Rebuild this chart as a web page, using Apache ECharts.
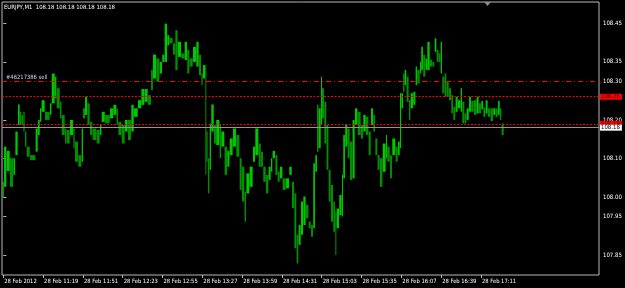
<!DOCTYPE html>
<html>
<head>
<meta charset="utf-8">
<title>EURJPY,M1</title>
<style>
  html, body { margin: 0; padding: 0; background: #000; overflow: hidden; }
</style>
</head>
<body>
<div id="chart" style="width:625px;height:288px;"></div>
<script src="https://cdn.jsdelivr.net/npm/echarts@6/dist/echarts.min.js"></script>
<script>
// blocks of M1 bars: start minute (0 = 10:47), high, low
var blockStart = [-0.5,0.6,2.7,5.4,8.1,9.7,11.8,13.4,14.8,16.1,17.4,18.8,21.5,26.0,27.9,29.5,30.8,33.5,37.5,38.9,41.6,42.9,45.6,47.0,49.6,51.0,53.6,56.3,57.6,60.3,63.0,64.3,65.7,67.6,69.7,71.8,75.1,77.7,79.1,81.8,85.8,88.5,91.1,92.5,95.2,97.8,
  100.2,102.9,105.1,108.3,111.0,113.6,116.3,119.0,120.3,123.0,125.7,127.8,129.7,131.9,133.7,136.4,138.3,140.4,143.1,145.8,147.9,149.8,152.5,155.2,157.3,159.2,160.5,162.4,163.2,164.5,165.9,167.2,169.4,171.2,173.9,175.3,177.9,180.1,182.0,184.6,187.3,190.0,191.9,194.0,195.4,198.0,200.7,202.6,
  205.3,207.2,209.0,211.2,213.3,215.2,216.5,218.7,220.6,222.4,224.6,227.3,229.9,232.1,234.0,235.8,237.4,239.3,241.2,243.3,245.5,247.4,249.2,250.8,252.4,253.5,255.4,256.2,258.1,259.9,261.6,263.4,265.3,266.9,268.0,270.1,272.3,273.3,274.9,276.8,278.7,280.8,282.7,284.9,287.5,289.4,291.6,293.7,295.6,297.5,299.1,300.9,302.8,305.0,
  307.6,308.7,310.9,312.7,315.4,317.3,318.9,320.0,321.6,322.6,324.2,326.1,327.5,329.6,331.5,332.8,335.0,336.0,337.6,339.5,340.9,343.0,344.9,346.8,348.4,350.2,351.6,352.9,354.8,356.4,358.3,360.2,361.8,363.6,365.5,367.7,369.0,370.9,372.5,374.4,376.2,378.4,380.5,382.4,384.3,385.9,387.8,389.6,391.8,393.9,395.8,397.7,399.3,400.6];
var lastEnd = 402.5;

var blockHigh = [108.040,108.131,108.120,108.101,108.101,108.170,108.240,108.221,108.213,108.221,
  108.170,108.131,108.109,108.178,108.200,108.230,108.251,108.221,108.243,108.320,
  108.312,108.282,108.247,108.213,108.178,108.174,108.200,108.178,108.144,108.109,
  108.178,108.230,108.260,108.243,108.195,108.178,108.174,108.187,108.221,108.213,
  108.230,108.239,108.230,108.195,108.187,108.200,
  108.200,108.239,108.230,108.251,108.280,108.280,108.264,108.329,108.369,108.359,
  108.350,108.369,108.449,108.419,108.412,108.398,108.432,108.402,108.372,108.402,
  108.381,108.359,108.389,108.402,108.368,108.320,108.342,108.342,108.170,108.101,
  108.191,108.240,108.187,108.200,108.187,108.170,108.131,108.120,108.152,108.178,
  108.161,108.101,108.079,108.015,108.062,108.079,108.131,108.178,
  108.139,108.118,108.079,108.058,108.079,108.101,108.120,108.109,108.066,108.079,
  108.049,108.049,108.079,108.040,108.010,107.903,107.928,107.989,108.002,107.980,
  107.937,107.928,108.088,108.109,108.239,108.230,108.312,108.282,108.247,108.187,
  108.071,108.032,107.989,107.963,107.971,108.006,108.058,108.161,108.187,108.178,
  108.144,108.200,108.230,108.221,108.187,108.213,108.208,108.170,108.230,108.213,
  108.152,108.109,108.101,108.139,
  108.161,108.131,108.109,108.152,108.131,108.144,108.269,108.269,108.320,108.329,
  108.312,108.251,108.269,108.273,108.338,108.329,108.350,108.389,108.368,108.359,
  108.402,108.355,108.350,108.411,108.381,108.372,108.402,108.312,108.320,108.299,
  108.282,108.264,108.234,108.260,108.251,108.282,108.247,108.217,108.230,108.260,
  108.249,108.251,108.260,108.243,108.249,108.232,108.251,108.230,108.230,108.230,
  108.230,108.249,108.230,108.191];

var blockLow = [107.999,108.027,108.068,108.027,108.058,108.109,108.187,108.187,108.187,108.170,
  108.131,108.105,108.096,108.118,108.161,108.195,108.221,108.200,108.213,108.243,
  108.256,108.230,108.204,108.161,108.139,108.139,108.161,108.127,108.092,108.079,
  108.092,108.204,108.213,108.187,108.161,108.148,108.139,108.161,108.195,108.191,
  108.204,108.213,108.187,108.161,108.139,108.170,
  108.148,108.170,108.208,108.230,108.239,108.247,108.239,108.277,108.307,108.299,
  108.320,108.350,108.350,108.393,108.398,108.369,108.329,108.363,108.359,108.355,
  108.320,108.338,108.350,108.338,108.316,108.290,108.307,108.058,108.092,108.010,
  108.071,108.170,108.139,108.135,108.101,108.131,108.058,108.079,108.109,108.131,
  108.105,108.019,107.989,107.937,108.010,108.027,108.092,108.109,
  108.079,108.079,108.040,108.010,108.045,108.066,108.101,108.058,108.040,108.049,
  108.019,108.023,108.058,107.972,107.868,107.829,107.877,107.903,107.928,107.946,
  107.920,107.898,107.920,108.066,108.118,108.127,108.187,108.204,108.139,108.071,
  107.989,107.937,107.911,107.851,107.920,107.954,107.950,108.049,108.131,108.101,
  108.045,108.049,108.187,108.161,108.152,108.170,108.161,108.109,108.187,108.170,
  108.109,108.071,108.027,108.066,
  108.101,108.092,108.049,108.109,108.092,108.109,108.127,108.230,108.273,108.290,
  108.247,108.200,108.230,108.239,108.290,108.294,108.320,108.329,108.312,108.329,
  108.329,108.338,108.338,108.376,108.350,108.350,108.320,108.269,108.260,108.260,
  108.251,108.217,108.200,108.221,108.230,108.221,108.191,108.191,108.200,108.221,
  108.221,108.213,108.217,108.217,108.228,108.208,108.217,108.208,108.197,108.213,
  108.208,108.213,108.200,108.161];

var timeTicks = [0,32,64,96,128,160,192,224,256,288,320,352,384];
var timeLabels = ['28 Feb 2012','28 Feb 11:19','28 Feb 11:51','28 Feb 12:23','28 Feb 12:55','28 Feb 13:27',
  '28 Feb 13:59','28 Feb 14:31','28 Feb 15:03','28 Feb 15:35','28 Feb 16:07','28 Feb 16:39','28 Feb 17:11'];
var priceTicks = [107.85,107.95,108.00,108.10,108.20,108.30,108.35,108.45];

var orderPrice = 108.30;
var slPrice = 108.26;
var tpPrice = 108.19;
var bidPrice = 108.18;

var font = "'DejaVu Sans Condensed', 'Liberation Sans', sans-serif";

var data = blockStart.map(function (s, i) {
  var e = i + 1 < blockStart.length ? blockStart[i + 1] : lastEnd;
  var up = i === 0 || (blockHigh[i] + blockLow[i]) >= (blockHigh[i - 1] + blockLow[i - 1]);
  return [s, e, blockHigh[i], blockLow[i], up ? 1 : 0];
});

var chart = echarts.init(document.getElementById('chart'));

chart.setOption({
  backgroundColor: '#000',
  animation: false,
  title: {
    text: 'EURJPY,M1  108.18 108.18 108.18 108.18',
    left: 4, top: 4, padding: 0,
    textStyle: { color: '#fff', fontSize: 5.9, fontWeight: 'normal', fontFamily: font }
  },
  grid: { left: 2, right: 26, top: 2, bottom: 13, show: true, borderColor: '#b8b8b8', borderWidth: 1, backgroundColor: '#000' },
  xAxis: {
    type: 'value', min: -1.05, max: 478.9,
    splitLine: { show: false },
    axisLine: { show: false },
    axisTick: { show: true, customValues: timeTicks, length: 3, lineStyle: { color: '#b8b8b8' } },
    axisLabel: {
      customValues: timeTicks, color: '#fff', fontSize: 5.8, fontFamily: font, align: 'left', margin: 3,
      hideOverlap: false, padding: [0, 0, 0, 1],
      formatter: function (v) { return timeLabels[Math.round(v / 32)]; }
    }
  },
  yAxis: {
    type: 'value', position: 'right', min: 107.799, max: 108.505,
    splitLine: { show: false },
    axisLine: { show: false },
    axisTick: { show: true, customValues: priceTicks, length: 3, lineStyle: { color: '#b8b8b8' } },
    axisLabel: {
      customValues: priceTicks, color: '#fff', fontSize: 6, fontFamily: font, margin: 4, hideOverlap: false,
      formatter: function (v) { return v.toFixed(2); }
    }
  },
  series: [{
    type: 'custom',
    data: data,
    clip: true,
    renderItem: function (params, api) {
      var a = api.coord([api.value(0), api.value(2)]);
      var b = api.coord([api.value(1), api.value(3)]);
      return {
        type: 'rect',
        shape: { x: a[0], y: a[1], width: Math.max(1, b[0] - a[0] - 0.3), height: Math.max(1, b[1] - a[1]) },
        style: { fill: api.value(4) ? '#00c800' : '#009000' }
      };
    },
    markLine: {
      silent: true, symbol: 'none', animation: false,
      data: [
        { yAxis: orderPrice, lineStyle: { color: '#ff0000', type: [5, 3, 1, 3], width: 1 },
          label: { show: true, position: 'insideStartTop', formatter: '#46217386 sell', color: '#d8d8e8', fontSize: 5.8, fontFamily: font, distance: [4, 1] } },
        { yAxis: slPrice, lineStyle: { color: '#ff0000', type: [2, 1.5], width: 1 },
          label: { show: true, position: 'end', formatter: slPrice.toFixed(2), color: '#400000', backgroundColor: '#ff0000', fontSize: 6, fontFamily: font, padding: [0, 2, 0, 1], distance: 1 } },
        { yAxis: tpPrice, lineStyle: { color: '#ff0000', type: [2, 1.5], width: 1 },
          label: { show: true, position: 'end', formatter: tpPrice.toFixed(2), color: '#400000', backgroundColor: '#ff0000', fontSize: 6, fontFamily: font, padding: [0, 2, 0, 1], distance: 1 } },
        { yAxis: bidPrice, lineStyle: { color: '#8c96a0', type: 'solid', width: 1 },
          label: { show: true, position: 'end', formatter: bidPrice.toFixed(2), color: '#000', backgroundColor: '#fff', fontSize: 6, fontFamily: font, padding: [0, 2, 0, 1], distance: 1 } }
      ]
    }
  }],
  graphic: [{
    type: 'polygon', left: 484, top: 2,
    shape: { points: [[0, 0], [7, 0], [3.5, 4]] },
    style: { fill: '#8a8a8a' }
  }]
});
</script>
</body>
</html>
